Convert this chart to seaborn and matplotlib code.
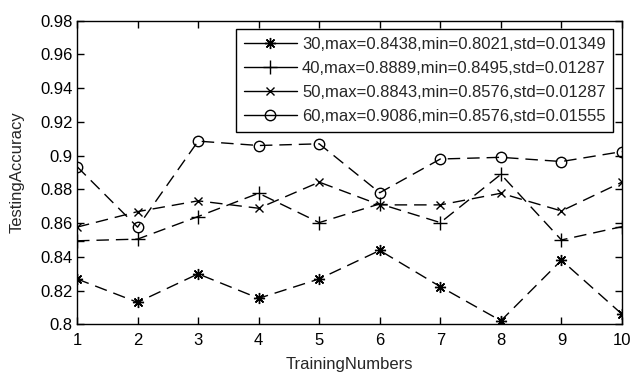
import matplotlib
matplotlib.use("Agg")
import matplotlib.pyplot as plt
import seaborn as sns
import pandas as pd

training_numbers = [1, 2, 3, 4, 5, 6, 7, 8, 9, 10]
s30 = [0.8269, 0.8130, 0.8299, 0.8154, 0.8269, 0.8438, 0.8223, 0.8021, 0.8380, 0.8060]
s40 = [0.8495, 0.8505, 0.8639, 0.8777, 0.8603, 0.8714, 0.8603, 0.8889, 0.8500, 0.8579]
s50 = [0.8576, 0.8668, 0.8732, 0.8688, 0.8843, 0.8708, 0.8708, 0.8777, 0.8672, 0.8843]
s60 = [0.8935, 0.8576, 0.9086, 0.9060, 0.9070, 0.8780, 0.8980, 0.8990, 0.8965, 0.9024]
labels = ["30,max=0.8438,min=0.8021,std=0.01349",
          "40,max=0.8889,min=0.8495,std=0.01287",
          "50,max=0.8843,min=0.8576,std=0.01287",
          "60,max=0.9086,min=0.8576,std=0.01555"]
yticks = [0.8, 0.82, 0.84, 0.86, 0.88, 0.9, 0.92, 0.94, 0.96, 0.98]
ytick_labels = ["0.8", "0.82", "0.84", "0.86", "0.88", "0.9", "0.92", "0.94", "0.96", "0.98"]

sns.set_style("ticks")
plt.rcParams['font.family'] = ['Liberation Sans', 'DejaVu Sans']

fig = plt.figure(figsize=(6.3, 3.73), dpi=100)
ax = fig.add_axes([77/630, 1 - 324.3/373, (622 - 77)/630, (324.3 - 20.7)/373])

markers = [(8, 2, 0), '+', 'x', 'o']
msizes = [8, 10, 6, 7.5]
series = [s30, s40, s50, s60]
for vals, lab, m, ms in zip(series, labels, markers, msizes):
    df = pd.DataFrame({"x": training_numbers, "y": vals})
    sns.lineplot(data=df, x="x", y="y", ax=ax, color="black", marker=m,
                 markersize=ms, mfc="none", mec="black", mew=1.0,
                 linewidth=1.0, linestyle=(0, (9, 5)), label=lab)

ax.set_xlim(1, 10)
ax.set_ylim(0.8, 0.98)
ax.set_xticks(training_numbers)
ax.set_xticklabels([str(v) for v in training_numbers])
ax.set_yticks(yticks)
ax.set_yticklabels(ytick_labels)
ax.tick_params(direction="in", length=5, width=1, top=True, right=True,
               labelsize=12, colors="black", pad=3)
ax.tick_params(axis="x", pad=6)
for sp in ax.spines.values():
    sp.set_visible(True)
    sp.set_color("black")
    sp.set_linewidth(1.0)
ax.set_xlabel("TrainingNumbers", fontsize=12, labelpad=7)
ax.set_ylabel("TestingAccuracy", fontsize=12, labelpad=11)

leg = ax.legend(loc="upper right", bbox_to_anchor=(0.984, 0.972), fontsize=12,
                frameon=True, fancybox=False, framealpha=1, edgecolor="black",
                handlelength=3.2, handletextpad=0.3, labelspacing=0.55,
                borderpad=0.45, borderaxespad=0)
leg.get_frame().set_linewidth(1.0)
for ln in leg.get_lines():
    ln.set_linestyle("-")

fig.savefig("out.png", dpi=100)
